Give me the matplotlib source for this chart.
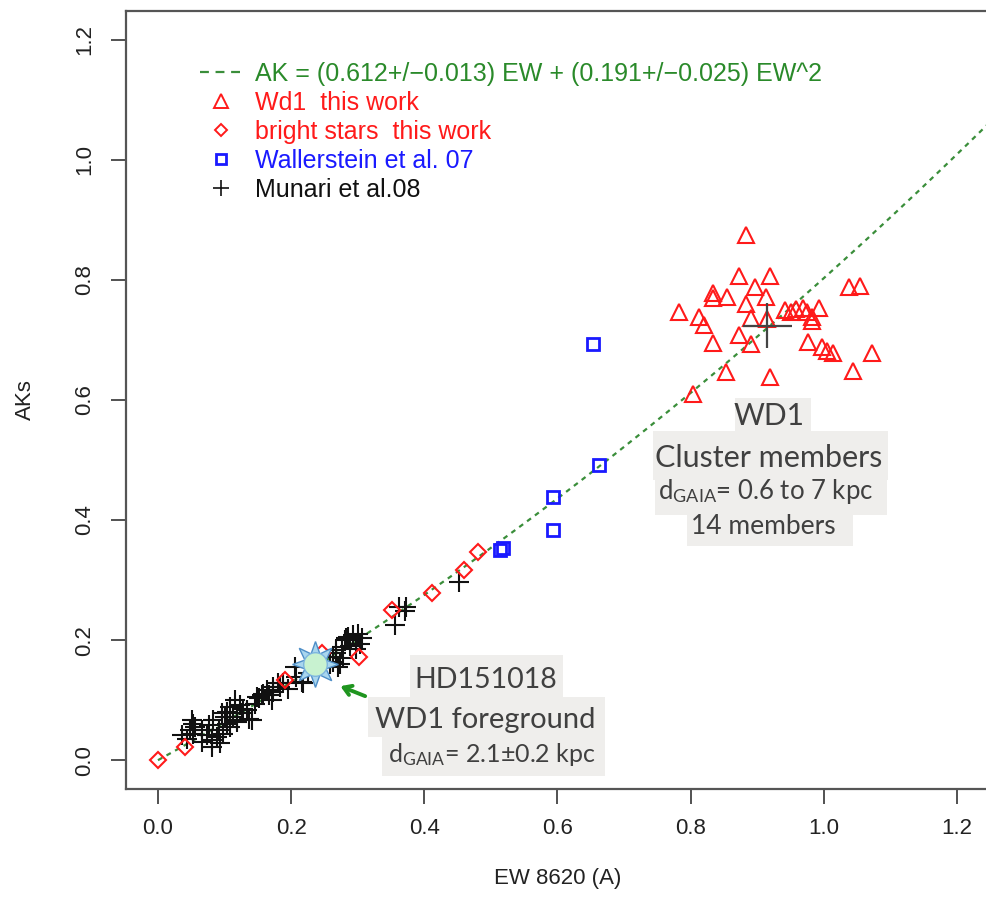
import matplotlib
matplotlib.use("Agg")
import matplotlib.pyplot as plt
from matplotlib.lines import Line2D
from matplotlib.patches import Rectangle
import numpy as np

plt.rcParams['font.family'] = ['Liberation Sans', 'DejaVu Sans']
plt.rcParams['mathtext.fontset'] = 'custom'
plt.rcParams['mathtext.rm'] = 'Lato'
plt.rcParams['mathtext.it'] = 'Lato:italic'

# ---------------- data ----------------
fit_a, fit_b = 0.612, 0.191

wd1_ew = [0.883, 0.873, 0.919, 0.896, 0.833, 0.834, 0.854, 0.913, 0.883, 0.783,
          0.813, 0.820, 0.891, 0.914, 0.941, 0.951, 0.968, 0.974, 0.993, 0.982,
          1.038, 1.054, 0.873, 0.891, 0.833, 0.976, 0.997, 1.004, 1.013, 1.072,
          1.044, 0.853, 0.919, 0.803, 0.958, 0.982]
wd1_ak = [0.875, 0.806, 0.806, 0.788, 0.779, 0.770, 0.772, 0.772, 0.760, 0.746,
          0.739, 0.725, 0.736, 0.735, 0.750, 0.747, 0.753, 0.746, 0.753, 0.731,
          0.788, 0.790, 0.708, 0.693, 0.695, 0.697, 0.689, 0.681, 0.678, 0.679,
          0.649, 0.646, 0.639, 0.610, 0.751, 0.738]

bright_ew = [0.0, 0.041, 0.191, 0.247, 0.302, 0.351, 0.412, 0.460, 0.480]
bright_ak = [0.0, 0.022, 0.133, 0.179, 0.172, 0.250, 0.279, 0.317, 0.346]

wall_ew = [0.514, 0.518, 0.593, 0.593, 0.663, 0.654]
wall_ak = [0.350, 0.354, 0.383, 0.439, 0.492, 0.694]

munari_ew = [0.036, 0.048, 0.053, 0.056, 0.066, 0.053, 0.066, 0.073, 0.081, 0.081,
             0.088, 0.093, 0.091, 0.083, 0.098, 0.096, 0.103, 0.103, 0.108, 0.108,
             0.113, 0.118, 0.116, 0.123, 0.126, 0.133, 0.141, 0.136, 0.151, 0.148,
             0.158, 0.156, 0.166, 0.171, 0.173, 0.173, 0.181, 0.183, 0.188, 0.208,
             0.216, 0.218, 0.206, 0.258, 0.263, 0.268, 0.273, 0.276, 0.281, 0.286,
             0.293, 0.306, 0.301, 0.278, 0.263, 0.271, 0.303, 0.283, 0.268, 0.356,
             0.362, 0.372, 0.371, 0.452, 0.051, 0.118, 0.044, 0.076, 0.101, 0.128,
             0.146, 0.163, 0.196, 0.226, 0.288, 0.297]
munari_ak = [0.042, 0.050, 0.061, 0.056, 0.050, 0.044, 0.031, 0.042, 0.033, 0.022,
             0.039, 0.028, 0.050, 0.067, 0.044, 0.078, 0.061, 0.081, 0.056, 0.089,
             0.072, 0.067, 0.100, 0.092, 0.078, 0.083, 0.067, 0.069, 0.103, 0.106,
             0.111, 0.108, 0.108, 0.100, 0.114, 0.122, 0.128, 0.122, 0.128, 0.139,
             0.131, 0.128, 0.156, 0.161, 0.172, 0.178, 0.161, 0.189, 0.200, 0.206,
             0.208, 0.203, 0.211, 0.170, 0.164, 0.156, 0.194, 0.203, 0.183, 0.225,
             0.255, 0.255, 0.248, 0.297, 0.067, 0.064, 0.036, 0.058, 0.072, 0.086,
             0.094, 0.117, 0.119, 0.146, 0.190, 0.186]

wd1_mean_ew, wd1_mean_ak = 0.915, 0.724
wd1_mean_ew_err, wd1_mean_ak_err = 0.037, 0.038

hd_ew, hd_ak = 0.236, 0.161
arrow_from = (0.315, 0.105)

xticks = [0.0, 0.2, 0.4, 0.6, 0.8, 1.0, 1.2]
yticks = [0.0, 0.2, 0.4, 0.6, 0.8, 1.0, 1.2]
tick_labels = ["0.0", "0.2", "0.4", "0.6", "0.8", "1.0", "1.2"]

fit_label = "AK = (0.612+/\u22120.013) EW + (0.191+/\u22120.025) EW^2"
labels = [fit_label, "Wd1  this work", "bright stars  this work",
          "Wallerstein et al. 07", "Munari et al.08"]

# ---------------- figure ----------------
W, H = 986, 914
fig = plt.figure(figsize=(W / 100, H / 100), dpi=100)
ax = fig.add_axes([126 / W, (H - 789) / H, 863 / W, 778 / H])
ax.set_xlim(-0.048, 1.248)
ax.set_ylim(-0.048, 1.248)

GREEN_LINE = '#3a8e3a'
GREEN_TXT = '#2a8a2a'
RED = '#ff1a1a'
BLUE = '#1a1aff'

xx = np.linspace(0, 1.25, 300)
ax.plot(xx, fit_a * xx + fit_b * xx ** 2, ls=(0, (2.2, 2.2)), lw=1.6,
        color=GREEN_LINE, zorder=2)

ax.plot(munari_ew, munari_ak, ls='none', marker='+', ms=14, mew=1.5,
        color='#111111', zorder=3)
ax.plot(bright_ew, bright_ak, ls='none', marker='D', ms=8, mew=1.5,
        mfc='none', mec=RED, zorder=4)
ax.plot(wall_ew, wall_ak, ls='none', marker='s', ms=8.5, mew=2.0,
        mfc='none', mec=BLUE, zorder=4)
ax.plot(wd1_ew, wd1_ak, ls='none', marker='^', ms=12, mew=1.5,
        mfc='none', mec=RED, zorder=4)
ax.errorbar([wd1_mean_ew], [wd1_mean_ak], xerr=[wd1_mean_ew_err],
            yerr=[wd1_mean_ak_err], fmt='none', ecolor='#444444',
            elinewidth=1.6, capsize=0, zorder=5)

# HD151018 sun symbol
ax.plot([hd_ew], [hd_ak], marker=(8, 1, 0), ms=33, mfc='#a9d6ee',
        mec='#4f8fc8', mew=1.0, ls='none', zorder=6)
ax.plot([hd_ew], [hd_ak], marker='o', ms=17, mfc='#c8f2d0',
        mec='#7fb6df', mew=1.0, ls='none', zorder=7)
ax.annotate('', xy=(hd_ew + 0.034, hd_ak - 0.036), xytext=arrow_from,
            arrowprops=dict(arrowstyle='->,head_length=0.55,head_width=0.35',
                            color='#1f951f', lw=2.8), zorder=7)

# axes styling
for s in ['left', 'bottom', 'top']:
    ax.spines[s].set_color('#555555')
    ax.spines[s].set_linewidth(1.6)
ax.spines['right'].set_visible(False)
ax.set_xticks(xticks)
ax.set_xticklabels(tick_labels)
ax.set_yticks(yticks)
ax.set_yticklabels(tick_labels)
ax.tick_params(axis='both', direction='out', length=11, width=1.2,
               colors='#333333', labelsize=16, labelcolor='#222222')
ax.tick_params(axis='x', pad=10)
ax.tick_params(axis='y', pad=11)
for t in ax.get_yticklabels():
    t.set_rotation(90)
    t.set_va('center')

ax.set_xlabel("EW 8620 (A)", fontsize=16, color='#222222')
ax.xaxis.set_label_coords(0.5, (789 - 868) / 778)
ax.set_ylabel("AKs", fontsize=16, color='#222222')
ax.yaxis.set_label_coords((36 - 126) / 863, 0.5)

# legend
handles = [
    Line2D([], [], ls=(0, (4, 3)), lw=1.6, color=GREEN_LINE),
    Line2D([], [], ls='none', marker='^', ms=10, mew=1.4, mfc='none', mec=RED),
    Line2D([], [], ls='none', marker='D', ms=6.5, mew=1.4, mfc='none', mec=RED),
    Line2D([], [], ls='none', marker='s', ms=7, mew=2.0, mfc='none', mec=BLUE),
    Line2D([], [], ls='none', marker='+', ms=12, mew=1.2, color='#111111'),
]
leg = ax.legend(handles, labels, loc='upper left',
                bbox_to_anchor=(200 / W, 1 - 62 / H),
                bbox_transform=fig.transFigure, frameon=False, fontsize=18,
                handlelength=1.7, handletextpad=0.5, labelspacing=0.2,
                borderpad=0, borderaxespad=0,
                labelcolor=[GREEN_TXT, RED, RED, BLUE, '#111111'])

# callout boxes
BG = '#efeeec'
TXT = '#404040'


def box(x0, y0, x1, y1):
    fig.add_artist(Rectangle((x0 / W, 1 - y1 / H), (x1 - x0) / W,
                             (y1 - y0) / H, transform=fig.transFigure,
                             facecolor=BG, edgecolor='none', zorder=8))


def label(cx, cy, s, size):
    fig.text(cx / W, 1 - cy / H, s, ha='center', va='center', fontsize=size,
             color=TXT, family=['Lato', 'DejaVu Sans'], zorder=9)


box(735, 398, 811, 431)
box(653, 431, 888, 480)
box(655, 480, 887, 515)
box(687, 515, 853, 546)
label(769, 416, "WD1", 21.5)
label(769, 458, "Cluster members", 22)
label(766, 491, r"d$_{\mathrm{GAIA}}$= 0.6 to 7 kpc", 18.5)
label(763, 527, "14 members", 19)

box(410, 655, 563, 697)
box(368, 697, 605, 737)
box(382, 737, 605, 776)
label(486, 680, "HD151018", 20.5)
label(485, 720, "WD1 foreground", 21)
label(492, 754, "d$_{\\mathrm{GAIA}}$= 2.1\u00b10.2 kpc", 18)

fig.savefig("out.png", dpi=100)
